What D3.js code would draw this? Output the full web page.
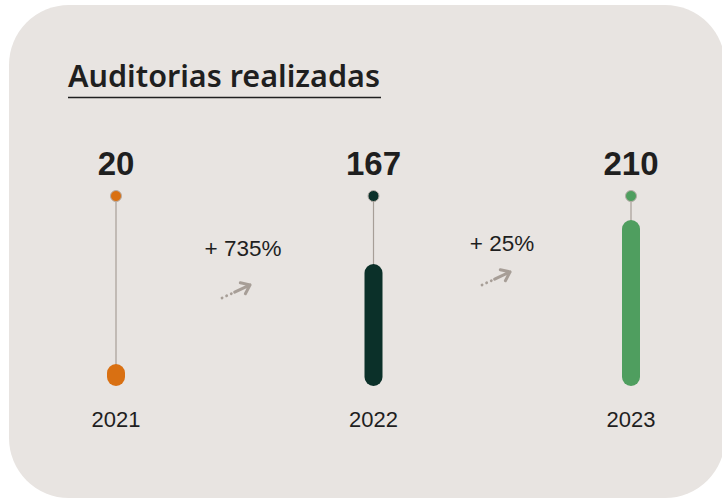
<!DOCTYPE html>
<html>
<head>
<meta charset="utf-8">
<script src="https://cdn.jsdelivr.net/npm/d3@7"></script>
<style>
  body { margin: 0; background: #ffffff; }
  svg { display: block; }
</style>
</head>
<body>
<svg id="chart" width="722" height="499"></svg>
<script>
// data
var years = ["2021", "2022", "2023"];
var audits = [20, 167, 210];
var colors = ["#d97012", "#0b3029", "#4f9e5f"];
var growthLabels = ["+ 735%", "+ 25%"];

var svg = d3.select("#chart");

// panel with rounded corners
svg.append("rect")
   .attr("x", 9).attr("y", 5)
   .attr("width", 716).attr("height", 493)
   .attr("rx", 60).attr("ry", 60)
   .attr("fill", "#e8e4e1");

// title
svg.append("text")
   .attr("x", 68).attr("y", 87)
   .attr("font-family", "'Noto Sans', sans-serif")
   .attr("font-weight", 600)
   .attr("font-size", 30)
   .attr("textLength", 312)
   .attr("lengthAdjust", "spacingAndGlyphs")
   .attr("fill", "#1f1f1f")
   .text("Auditorias realizadas");

svg.append("line")
   .attr("x1", 68).attr("x2", 381)
   .attr("y1", 97.5).attr("y2", 97.5)
   .attr("stroke", "#1f1f1f")
   .attr("stroke-width", 1.5);

var x = d3.scalePoint()
          .domain(years)
          .range([116, 631]);

var y = d3.scaleLinear()
          .domain([0, 210])
          .range([435, 220]);

var barBottom = 386, barW = 18, dotY = 196, minBar = 22;

function barTop(v) { return Math.min(y(v), barBottom - minBar); }

var g = svg.selectAll("g.year")
           .data(years)
           .enter()
           .append("g")
           .attr("class", "year");

// stems
g.append("line")
 .attr("x1", function(d) { return x(d); })
 .attr("x2", function(d) { return x(d); })
 .attr("y1", dotY)
 .attr("y2", function(d, i) { return barTop(audits[i]) + 4; })
 .attr("stroke", "#a79e97")
 .attr("stroke-width", 1.2);

// bars
g.append("rect")
 .attr("x", function(d) { return x(d) - barW / 2; })
 .attr("y", function(d, i) { return barTop(audits[i]); })
 .attr("width", barW)
 .attr("height", function(d, i) { return barBottom - barTop(audits[i]); })
 .attr("rx", barW / 2)
 .attr("fill", function(d, i) { return colors[i]; });

// dots
g.append("circle")
 .attr("cx", function(d) { return x(d); })
 .attr("cy", dotY)
 .attr("r", 5.5)
 .attr("fill", function(d, i) { return colors[i]; })
 .attr("stroke", "#b5aca6")
 .attr("stroke-width", 1);

// values
g.append("text")
 .attr("x", function(d) { return x(d); })
 .attr("y", 175)
 .attr("text-anchor", "middle")
 .attr("font-family", "'Liberation Sans', Arial, sans-serif")
 .attr("font-weight", 700)
 .attr("font-size", 33)
 .attr("fill", "#1f1f1f")
 .text(function(d, i) { return audits[i]; });

// year labels
g.append("text")
 .attr("x", function(d) { return x(d); })
 .attr("y", 427)
 .attr("text-anchor", "middle")
 .attr("font-family", "'Liberation Sans', Arial, sans-serif")
 .attr("font-size", 22)
 .attr("fill", "#1f1f1f")
 .text(function(d) { return d; });

// growth labels + arrows between years
var gx = [243, 502], gy = [256, 251], ax = [222, 482], ay = [298, 285];

growthLabels.forEach(function(lbl, i) {
  svg.append("text")
     .attr("x", gx[i]).attr("y", gy[i])
     .attr("text-anchor", "middle")
     .attr("font-family", "'Liberation Sans', Arial, sans-serif")
     .attr("font-size", 22.5)
     .attr("fill", "#1f1f1f")
     .text(lbl);

  var a = svg.append("g")
             .attr("transform", "translate(" + ax[i] + "," + ay[i] + ") rotate(-25)");
  a.append("line")
   .attr("x1", 0).attr("x2", 14).attr("y1", 0).attr("y2", 0)
   .attr("stroke", "#a79e97")
   .attr("stroke-width", 2.8)
   .attr("stroke-linecap", "round")
   .attr("stroke-dasharray", "0.1,5");
  a.append("path")
   .attr("d", "M14,0 L31,0 M23,-6 L31,0 L23,6")
   .attr("fill", "none")
   .attr("stroke", "#a79e97")
   .attr("stroke-width", 3)
   .attr("stroke-linecap", "round")
   .attr("stroke-linejoin", "round");
});
</script>
</body>
</html>
